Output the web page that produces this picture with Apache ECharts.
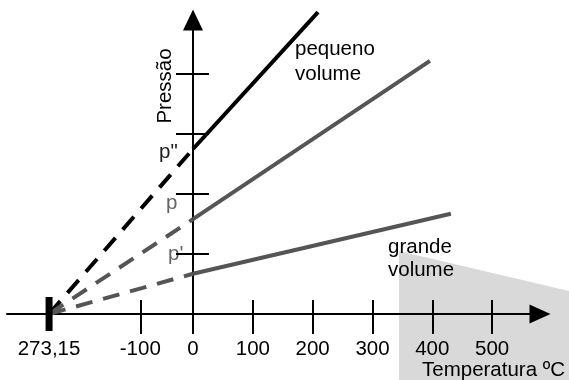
<!DOCTYPE html>
<html>
<head>
<meta charset="utf-8">
<script src="https://cdn.jsdelivr.net/npm/echarts@6/dist/echarts.min.js"></script>
<style>
  html, body { margin: 0; padding: 0; background: #fff; }
  #chart { width: 569px; height: 380px; }
</style>
</head>
<body>
<div id="chart"></div>
<script>
// temperature axis (ºC)
const absZero = -273.15;
const negTicks = [-100];
const tempTicks = [0, 100, 200, 300, 400, 500];
// pressure axis (arbitrary units, one per tick)
const pressureTicks = [1, 2, 3, 4];

// the three isochores: pressure at 0 ºC and where the solid line stops
const volumes = ['pequeno volume', 'médio volume', 'grande volume'];
const p0 = [2.75, 1.58, 0.67];
const endTemp = [209, 396, 431];
const endPressure = [5.03, 4.22, 1.67];

const colors = ['#000', '#555', '#555'];
const font = 'Liberation Sans, Arial, sans-serif';
const fs = 20.5;

const chart = echarts.init(document.getElementById('chart'));

const yMax = 4.9;
const leftMin = -353;
const rightMax = 580;

const axisLine = { lineStyle: { color: '#000', width: 2 } };

let series = [];
volumes.forEach((name, i) => {
    series.push({
        name: name + ' (extrapolado)',
        type: 'line',
        xAxisIndex: 0,
        yAxisIndex: 0,
        symbol: 'none',
        clip: false,
        lineStyle: { color: colors[i], width: 4, type: [17, 11] },
        data: [[absZero, 0], [0, p0[i]]],
        z: 3
    });
    series.push({
        name: name,
        type: 'line',
        xAxisIndex: 2,
        yAxisIndex: 1,
        symbol: 'none',
        clip: false,
        lineStyle: { color: colors[i], width: 4 },
        data: [[0, p0[i]], [endTemp[i], endPressure[i]]],
        z: 3
    });
});

// thick marker at absolute zero
series.push({
    type: 'scatter',
    xAxisIndex: 0,
    yAxisIndex: 0,
    symbol: 'rect',
    symbolSize: [7, 34],
    itemStyle: { color: '#000', opacity: 1 },
    data: [[absZero, 0]],
    z: 4
});

function txt(x, y, text, fill, extra) {
    return Object.assign({
        type: 'text', x: x, y: y,
        style: { text: text, font: fs + 'px ' + font, fill: fill, textAlign: 'left', textVerticalAlign: 'middle' }
    }, extra || {});
}

const option = {
    animation: false,
    backgroundColor: '#fff',
    grid: [
        { left: 7, top: 20, width: 186, height: 294 },
        { left: 193, top: 20, width: 347, height: 294 }
    ],
    xAxis: [
        {
            gridIndex: 0, type: 'value', position: 'bottom',
            min: leftMin, max: 0,
            axisLine: axisLine,
            splitLine: { show: false },
            axisTick: { customValues: negTicks, length: 20, lineStyle: { color: '#000', width: 2 } },
            axisLabel: {
                customValues: [absZero].concat(negTicks),
                margin: 25, color: '#000', fontSize: fs, fontFamily: font,
                formatter: v => v === absZero ? '273,15' : String(v)
            }
        },
        {
            gridIndex: 0, type: 'value', position: 'bottom',
            min: leftMin, max: 0,
            axisLine: { show: false },
            splitLine: { show: false },
            axisTick: { inside: true, customValues: negTicks, length: 14, lineStyle: { color: '#000', width: 2 } },
            axisLabel: { show: false }
        },
        {
            gridIndex: 1, type: 'value', position: 'bottom',
            min: 0, max: rightMax,
            axisLine: Object.assign({ symbol: ['none', 'triangle'], symbolSize: [19, 21] }, axisLine),
            splitLine: { show: false },
            axisTick: { customValues: tempTicks, length: 20, lineStyle: { color: '#000', width: 2 } },
            axisLabel: {
                customValues: tempTicks,
                margin: 25, color: '#000', fontSize: fs, fontFamily: font
            }
        },
        {
            gridIndex: 1, type: 'value', position: 'bottom',
            min: 0, max: rightMax,
            axisLine: { show: false },
            splitLine: { show: false },
            axisTick: { inside: true, customValues: tempTicks.slice(1), length: 14, lineStyle: { color: '#000', width: 2 } },
            axisLabel: { show: false }
        }
    ],
    yAxis: [
        {
            gridIndex: 0, type: 'value', min: 0, max: yMax, show: false
        },
        {
            gridIndex: 1, type: 'value', position: 'left',
            min: 0, max: yMax,
            axisLine: Object.assign({ show: true, symbol: ['none', 'triangle'], symbolSize: [20, 21] }, axisLine),
            splitLine: { show: false },
            axisTick: { show: true, customValues: pressureTicks, length: 17, lineStyle: { color: '#000', width: 2 } },
            axisLabel: { show: false }
        },
        {
            gridIndex: 1, type: 'value', position: 'left',
            min: 0, max: yMax,
            axisLine: { show: false },
            splitLine: { show: false },
            axisTick: { show: true, inside: true, customValues: pressureTicks, length: 16, lineStyle: { color: '#000', width: 2 } },
            axisLabel: { show: false }
        }
    ],
    graphic: [
        {
            type: 'polygon', z: -10, silent: true,
            shape: { points: [[399, 251], [569, 291], [569, 380], [399, 380]] },
            style: { fill: '#d9d9d9' }
        },
        {
            type: 'text', x: 165, y: 86, rotation: Math.PI / 2,
            style: { text: 'Pressão', font: fs + 'px ' + font, fill: '#000', textAlign: 'center', textVerticalAlign: 'middle' }
        },
        txt(295, 49, 'pequeno', '#000'),
        txt(295, 74, 'volume', '#000'),
        txt(388, 247, 'grande', '#000'),
        txt(388, 270, 'volume', '#000'),
        txt(159, 152, 'p"', '#222'),
        txt(166, 203, 'p', '#666'),
        txt(168, 254, "p'", '#666'),
        txt(422, 370, 'Temperatura ºC', '#000')
    ],
    series: series
};

chart.setOption(option);
</script>
</body>
</html>
